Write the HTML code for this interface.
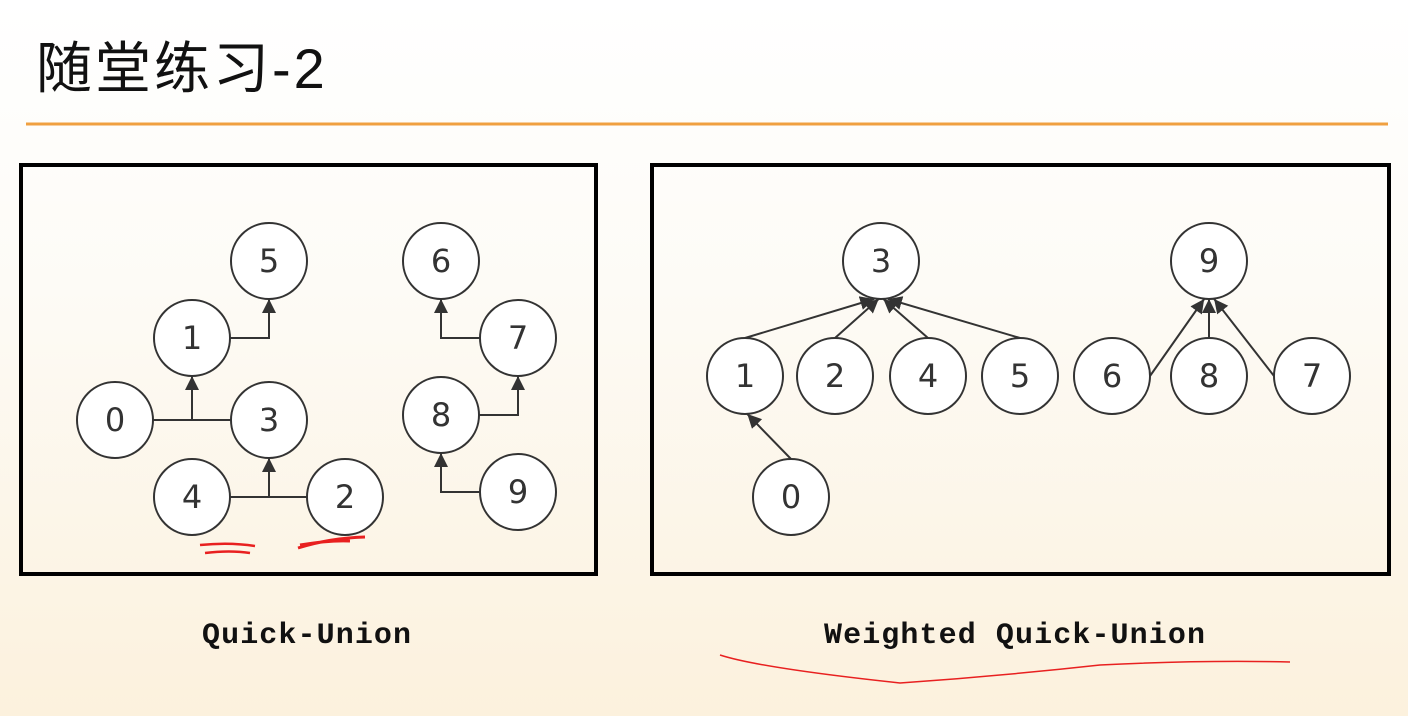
<!DOCTYPE html>
<html><head><meta charset="utf-8"><style>
html,body{margin:0;padding:0}
body{width:1408px;height:716px;overflow:hidden;background:linear-gradient(#ffffff 0%,#fdfbf6 40%,#fcf1dd 100%);position:relative;font-family:"Liberation Sans","Noto Sans CJK SC",sans-serif}
.title{position:absolute;left:36px;top:24px;font-size:56px;color:#111;letter-spacing:3px}
.cap{position:absolute;top:619px;font-family:"Liberation Mono",monospace;font-weight:bold;font-size:30px;letter-spacing:1.1px;color:#111}
</style></head><body>
<div class="title">随堂练习-2</div>
<svg width="1408" height="716" style="position:absolute;left:0;top:0">
<defs><marker id="ah" viewBox="0 0 10 10" refX="10" refY="5" markerWidth="7" markerHeight="7" orient="auto"><path d="M0,0L10,5L0,10z" fill="#333"/></marker></defs>
<line x1="26" y1="124" x2="1388" y2="124" stroke="#f0a040" stroke-width="3"/>
<rect x="21" y="165" width="575" height="409" fill="none" stroke="#000" stroke-width="4"/>
<rect x="652" y="165" width="737" height="409" fill="none" stroke="#000" stroke-width="4"/>
<g id="edges" stroke="#333" stroke-width="2" fill="none"></g>
<g id="nodes"></g>
<path d="M200,545 Q230,542 255,546 M205,553 Q230,550 250,553" stroke="#e82020" stroke-width="2.5" fill="none"/>
<path d="M298,548 Q330,538 365,537 M300,545 Q330,540 350,541" stroke="#e82020" stroke-width="3" fill="none"/>
<path d="M720,655 Q760,668 900,683 Q1000,676 1100,665 Q1200,660 1290,662" stroke="#e82020" stroke-width="1.5" fill="none"/>
</svg>
<div class="cap" style="left:202px">Quick-Union</div>
<div class="cap" style="left:824px">Weighted Quick-Union</div>
<script>
const R=38;
const nodeLabels=['5','1','0','3','4','2','6','7','8','9','3','9','1','2','4','5','6','8','7','0'];
const nodeX=[269,192,115,269,192,345,441,518,441,518,881,1209,745,835,928,1020,1112,1209,1312,791];
const nodeY=[261,338,420,420,497,497,261,338,415,492,261,261,376,376,376,376,376,376,376,497];
// elbow edges (quick-union): [child, sibling-or-null, parent]
const elbows=[[1,null,0],[2,3,1],[4,5,3],[7,null,6],[8,null,7],[9,null,8]];
// straight edges (weighted): [child, parent]
const straight=[[12,10],[13,10],[14,10],[15,10],[16,11],[17,11],[18,11],[19,12]];
const NS='http://www.w3.org/2000/svg';
const eg=document.getElementById('edges'),ng=document.getElementById('nodes');
function mk(t,a){const e=document.createElementNS(NS,t);for(const k in a)e.setAttribute(k,a[k]);return e;}
elbows.forEach(([c,s,p])=>{
  const px=nodeX[p],py=nodeY[p];let d;
  if(s===null){const sx=nodeX[c]+(px>nodeX[c]?R:-R);d=`M${sx},${nodeY[c]} L${px},${nodeY[c]} L${px},${py+R}`;}
  else{const y=nodeY[c];eg.appendChild(mk('line',{x1:nodeX[c]+R,y1:y,x2:nodeX[s]-R,y2:y}));d=`M${px},${y} L${px},${py+R}`;}
  const e=mk('path',{d:d,'marker-end':'url(#ah)'});
  
  
  eg.appendChild(e);
});
straight.forEach(([c,p])=>{
  const cx=nodeX[c],cy=nodeY[c],px=nodeX[p],py=nodeY[p];
  let sx=cx,sy=cy-R;
  if(Math.abs(cx-px)>60&&Math.abs(cx-px)<120&&cy===376){sx=cx+(px>cx?R:-R);sy=cy;}
  const tx=px+(cx-px)*0.05,ty=py+R;
  const e=mk('line',{x1:sx,y1:sy,x2:tx,y2:ty,'marker-end':'url(#ah)'});
  
  
  eg.appendChild(e);
});
nodeLabels.forEach((l,i)=>{
  const g=mk('g',{});
  
  
  g.appendChild(mk('ellipse',{cx:nodeX[i],cy:nodeY[i],rx:R,ry:R,fill:'#fff',stroke:'#333','stroke-width':2}));
  const t=mk('text',{x:nodeX[i],y:nodeY[i]+11,'text-anchor':'middle','font-size':32,fill:'#333','font-family':'DejaVu Sans, sans-serif'});
  t.textContent=l;g.appendChild(t);ng.appendChild(g);
});
</script>
</body></html>
